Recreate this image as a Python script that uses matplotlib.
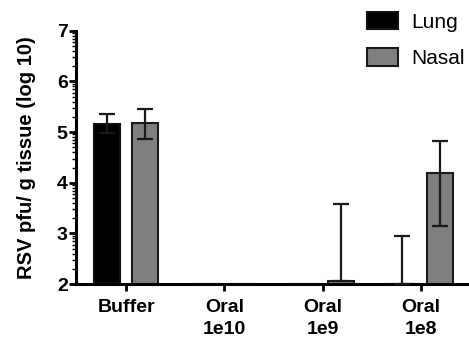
import numpy as np
import matplotlib.pyplot as plt
from matplotlib.ticker import FixedLocator

plt.rcParams['font.family'] = ['Liberation Sans', 'DejaVu Sans']

# values (log10 pfu / g tissue)
groups = ['Buffer', 'Oral\n1e10', 'Oral\n1e9', 'Oral\n1e8']
lung = [5.17, 2.0, 2.0, 2.0]
lung_err_up = [0.18, 0.0, 0.0, 0.95]
lung_err_down = [0.18, 0.0, 0.0, 0.0]
nasal = [5.19, 2.0, 2.06, 4.19]
nasal_err_up = [0.27, 0.0, 1.52, 0.63]
nasal_err_down = [0.33, 0.0, 0.0, 1.04]

fig = plt.figure(figsize=(4.69, 3.39), dpi=100)
ax = fig.add_axes([0.162, 0.162, 0.838, 0.747])

x = np.arange(len(groups))
off = 0.19
w = 0.265

ax.bar(x - off, lung, width=w, color='black', edgecolor='#111111', linewidth=1.5,
       label='Lung', zorder=2)
ax.bar(x + off, nasal, width=w, color='#7f7f7f', edgecolor='#1a1a1a', linewidth=1.5,
       label='Nasal', zorder=2)

# error bars, only where there is a spread
for xs, vals, lo, hi in [(x - off, lung, lung_err_down, lung_err_up),
                         (x + off, nasal, nasal_err_down, nasal_err_up)]:
    for xi, v, l, h in zip(xs, vals, lo, hi):
        if l == 0 and h == 0:
            continue
        ax.errorbar(xi, v, yerr=[[l], [h]], fmt='none', ecolor='#1a1a1a',
                    elinewidth=1.6, capsize=5.5, capthick=1.6, zorder=3)

ax.set_ylim(2, 7)
ax.set_xlim(-0.51, 3.49)
ax.set_yticks([2, 3, 4, 5, 6, 7])
minor = [d + np.log10(k) for d in range(2, 7) for k in range(2, 10)]
ax.yaxis.set_minor_locator(FixedLocator(minor))
ax.set_xticks(x)
ax.set_xticklabels(groups, fontsize=14, fontweight='bold', linespacing=1.38)
for lab in ax.get_yticklabels():
    lab.set_fontsize(14)
    lab.set_fontweight('bold')

ax.set_ylabel('RSV pfu/ g tissue (log 10)', fontsize=14.5, fontweight='bold')
ax.yaxis.set_label_coords(-0.102, 0.5)

for s in ['top', 'right']:
    ax.spines[s].set_visible(False)
for s in ['left', 'bottom']:
    ax.spines[s].set_linewidth(2.2)
ax.tick_params(axis='y', which='major', direction='out', length=5, width=2.0, pad=1)
ax.tick_params(axis='x', which='major', direction='out', length=5, width=2.0, pad=6)
ax.tick_params(axis='y', which='minor', direction='out', length=3, width=1.0)

fig.legend(loc='upper left', bbox_to_anchor=(0.765, 0.99), frameon=False,
           fontsize=15, handlelength=1.5, handleheight=0.9, labelspacing=0.8,
           handletextpad=0.6, borderaxespad=0)

fig.savefig('out.png', dpi=100)
